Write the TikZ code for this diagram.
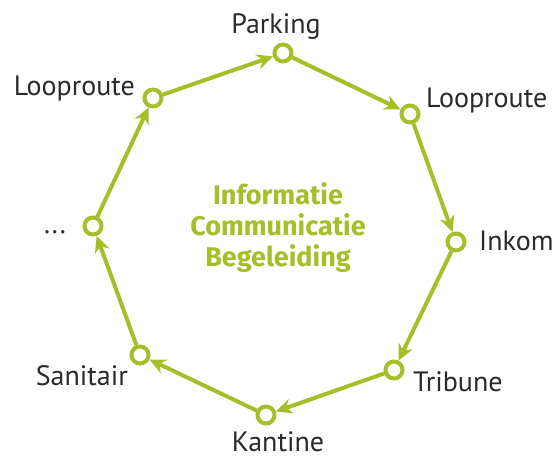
\documentclass[tikz,border=0pt]{standalone}
\usepackage{fontspec}
\setmainfont{PT Sans}
\newfontfamily\cfont{Fira Sans}
\usetikzlibrary{arrows.meta}
\definecolor{lime}{HTML}{A6BE28}
\definecolor{txt}{HTML}{2A2A2A}
\begin{document}
\begin{tikzpicture}[x=1pt,y=-1pt,
  stop/.style={circle,draw=lime,fill=white,line width=4pt,minimum size=17pt,inner sep=0pt},
  lbl/.style={text=txt,font=\fontsize{28}{30}\selectfont,inner sep=0pt,anchor=base},
  conn/.style={draw=lime,line width=4pt,-{Stealth[length=16pt,width=15pt,inset=5pt]}}]
\useasboundingbox (0,0) rectangle (558,459);
\node[stop] (p) at (283,53) {};
\node[stop] (lr) at (410,114) {};
\node[stop] (i) at (456,242) {};
\node[stop] (t) at (394,370) {};
\node[stop] (k) at (266,415) {};
\node[stop] (s) at (140,355) {};
\node[stop] (d) at (93,226) {};
\node[stop] (ll) at (153,98) {};
\draw[conn] (p) -- (lr);
\draw[conn] (lr) -- (i);
\draw[conn] (i) -- (t);
\draw[conn] (t) -- (k);
\draw[conn] (k) -- (s);
\draw[conn] (s) -- (d);
\draw[conn] (d) -- (ll);
\draw[conn] (ll) -- (p);
\node[lbl] (pl) at (276,33) {Parking};
\node[lbl,anchor=base west] (lrl) at (426,107) {Looproute};
\node[lbl,anchor=base west] (il) at (479,250) {Inkom};
\node[lbl,anchor=base west] (tl) at (413,391) {Tribune};
\node[lbl] (kl) at (278,451) {Kantine};
\node[lbl,anchor=base east] (sl) at (128,385) {Sanitair};
\node[lbl,anchor=base east] (dl) at (66,233) {...};
\node[lbl,anchor=base east] (lll) at (135,95) {Looproute};
\node[text=lime,font=\fontsize{27}{31}\cfont\bfseries,align=center,inner sep=0pt] (c) at (278,228) {Informatie\\Communicatie\\Begeleiding};
\end{tikzpicture}
\end{document}
